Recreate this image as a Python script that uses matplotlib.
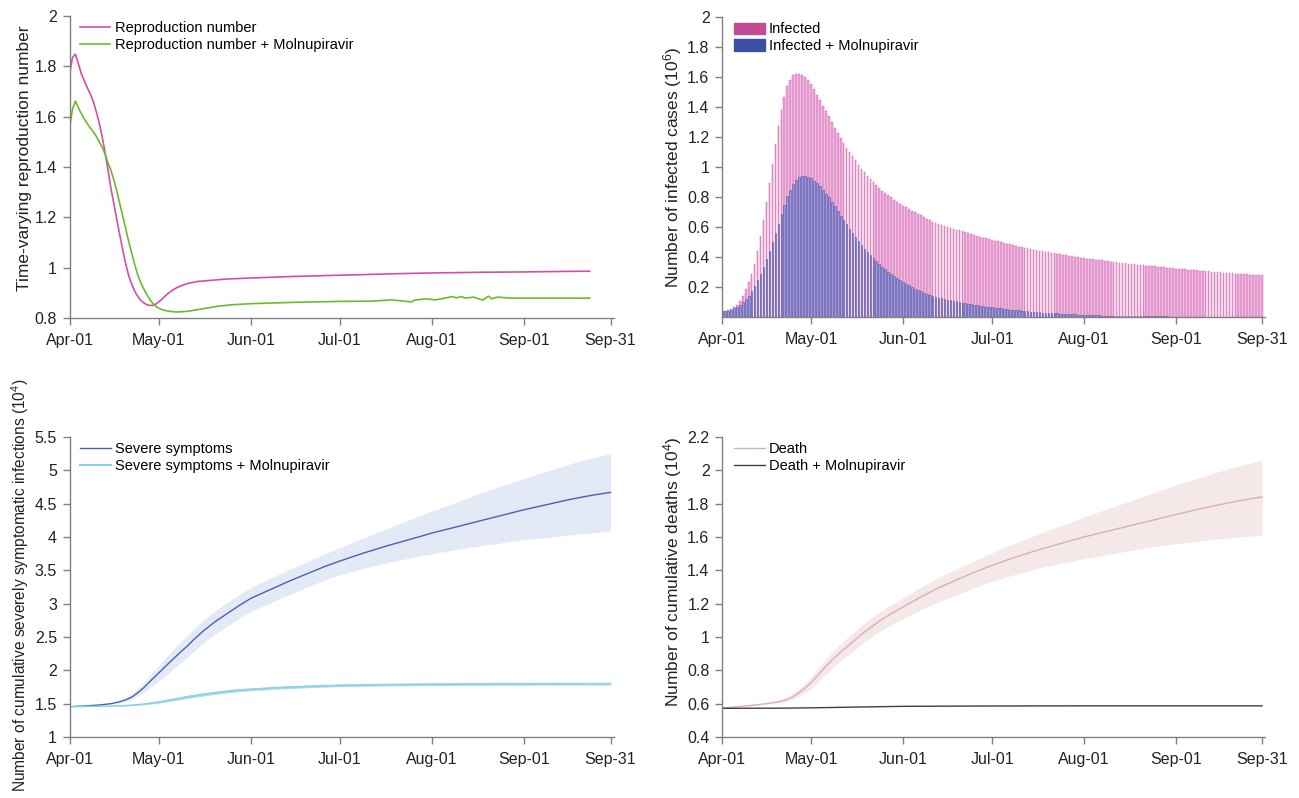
import matplotlib
matplotlib.use("Agg")
import matplotlib.pyplot as plt
from matplotlib.patches import Patch
from matplotlib.lines import Line2D

plt.rcParams['font.family'] = ['Liberation Sans', 'DejaVu Sans']
plt.rcParams['mathtext.fontset'] = 'custom'
plt.rcParams['mathtext.rm'] = 'Liberation Sans'
plt.rcParams['mathtext.it'] = 'Liberation Sans'

# x axis: days since Apr-01
tick_days = [0, 30, 61, 91, 122, 153, 182]
tick_labels = ["Apr-01", "May-01", "Jun-01", "Jul-01", "Aug-01", "Sep-01", "Sep-31"]

# panel 1: time-varying reproduction number
r_days = [0, 1, 2, 3, 4, 5, 6, 7, 8, 9, 10, 11, 12, 13, 14, 15, 16, 17, 18, 19, 20, 21, 22, 23,
          24, 25, 26, 27, 28, 29, 30, 31, 32, 33, 34, 35, 36, 38, 40, 43, 47, 53, 61, 75, 91,
          110, 122, 140, 153, 165, 175]
r_base = [1.767, 1.835, 1.848, 1.81, 1.77, 1.742, 1.715, 1.69, 1.66, 1.62, 1.575, 1.52, 1.455,
          1.385, 1.31, 1.25, 1.185, 1.125, 1.065, 1.01, 0.965, 0.932, 0.905, 0.885, 0.87, 0.86,
          0.853, 0.85, 0.85, 0.855, 0.864, 0.874, 0.885, 0.896, 0.905, 0.913, 0.92, 0.93, 0.938,
          0.945, 0.949, 0.955, 0.959, 0.965, 0.970, 0.976, 0.979, 0.982, 0.983, 0.985, 0.986]
rm_days = [0, 1, 2, 3, 4, 5, 6, 7, 8, 9, 10, 11, 12, 13, 14, 15, 16, 17, 18, 19, 20, 21, 22, 23,
           24, 25, 26, 27, 28, 29, 30, 31, 32, 34, 36, 38, 40, 44, 50, 55, 61, 75, 91, 102, 108,
           111, 115, 116, 120, 123, 125, 127, 129, 130, 132, 133, 136, 139, 141, 142, 144, 146,
           148, 160, 175]
rm_vals = [1.553, 1.63, 1.662, 1.635, 1.612, 1.59, 1.572, 1.555, 1.54, 1.522, 1.5, 1.478, 1.45,
           1.415, 1.385, 1.345, 1.30, 1.25, 1.20, 1.15, 1.10, 1.055, 1.01, 0.97, 0.94, 0.915,
           0.893, 0.874, 0.858, 0.847, 0.839, 0.834, 0.83, 0.826, 0.824, 0.825, 0.827, 0.835,
           0.847, 0.853, 0.857, 0.862, 0.866, 0.867, 0.872, 0.869, 0.864, 0.871, 0.876, 0.872,
           0.876, 0.881, 0.885, 0.880, 0.885, 0.879, 0.883, 0.871, 0.887, 0.876, 0.883, 0.881,
           0.879, 0.879, 0.879]

# panel 2: daily infected cases (10^6), one value per day
infected = [
    0.038, 0.040, 0.047, 0.053, 0.064, 0.082, 0.104, 0.138, 0.187, 0.231,
    0.289, 0.356, 0.438, 0.538, 0.649, 0.764, 0.893, 1.022, 1.151, 1.271,
    1.378, 1.467, 1.538, 1.582, 1.613, 1.622, 1.622, 1.613, 1.600, 1.578,
    1.553, 1.520, 1.482, 1.444, 1.409, 1.371, 1.338, 1.298, 1.260, 1.227,
    1.193, 1.160, 1.127, 1.098, 1.071, 1.044, 1.016, 0.989, 0.967, 0.942,
    0.920, 0.898, 0.882, 0.860, 0.842, 0.827, 0.811, 0.798, 0.782, 0.769,
    0.756, 0.742, 0.731, 0.720, 0.709, 0.700, 0.689, 0.678, 0.667, 0.656,
    0.644, 0.636, 0.629, 0.622, 0.613, 0.607, 0.601, 0.595, 0.589, 0.583,
    0.577, 0.571, 0.565, 0.559, 0.553, 0.547, 0.541, 0.535, 0.530, 0.524,
    0.519, 0.514, 0.509, 0.504, 0.499, 0.494, 0.489, 0.484, 0.479, 0.475,
    0.470, 0.466, 0.462, 0.458, 0.454, 0.450, 0.446, 0.443, 0.439, 0.436,
    0.432, 0.429, 0.425, 0.422, 0.418, 0.415, 0.412, 0.408, 0.405, 0.402,
    0.399, 0.396, 0.393, 0.390, 0.387, 0.385, 0.382, 0.379, 0.377, 0.374,
    0.372, 0.369, 0.367, 0.364, 0.362, 0.360, 0.358, 0.355, 0.353, 0.351,
    0.349, 0.347, 0.345, 0.343, 0.341, 0.339, 0.337, 0.335, 0.333, 0.331,
    0.329, 0.327, 0.325, 0.323, 0.321, 0.320, 0.318, 0.316, 0.314, 0.313,
    0.311, 0.309, 0.308, 0.306, 0.304, 0.303, 0.301, 0.300, 0.298, 0.296,
    0.295, 0.293, 0.292, 0.290, 0.289, 0.287, 0.286, 0.284, 0.283, 0.281,
    0.280, 0.278, 0.277,
]
infected_m = [
    0.038, 0.038, 0.042, 0.049, 0.058, 0.067, 0.082, 0.100, 0.120, 0.142,
    0.171, 0.204, 0.244, 0.289, 0.333, 0.387, 0.440, 0.498, 0.560, 0.622,
    0.687, 0.749, 0.804, 0.849, 0.889, 0.916, 0.933, 0.938, 0.938, 0.933,
    0.924, 0.909, 0.893, 0.871, 0.849, 0.822, 0.798, 0.769, 0.738, 0.707,
    0.676, 0.647, 0.618, 0.589, 0.560, 0.533, 0.507, 0.480, 0.456, 0.433,
    0.411, 0.391, 0.371, 0.353, 0.336, 0.318, 0.302, 0.287, 0.271, 0.258,
    0.244, 0.233, 0.222, 0.211, 0.200, 0.189, 0.180, 0.171, 0.162, 0.156,
    0.149, 0.142, 0.136, 0.129, 0.124, 0.120, 0.116, 0.112, 0.108, 0.104,
    0.100, 0.096, 0.092, 0.089, 0.085, 0.082, 0.079, 0.076, 0.073, 0.070,
    0.067, 0.064, 0.062, 0.059, 0.057, 0.054, 0.052, 0.050, 0.048, 0.046,
    0.044, 0.042, 0.040, 0.038, 0.036, 0.035, 0.033, 0.032, 0.030, 0.029,
    0.027, 0.026, 0.025, 0.024, 0.022, 0.021, 0.020, 0.019, 0.018, 0.017,
    0.016, 0.015, 0.014, 0.014, 0.013, 0.012, 0.012, 0.011, 0.010, 0.010,
    0.009, 0.009, 0.008, 0.008, 0.007, 0.007, 0.007, 0.006, 0.006, 0.006,
    0.005, 0.005, 0.005, 0.005, 0.005, 0.004, 0.004, 0.004, 0.004, 0.004,
    0.004, 0.003, 0.003, 0.003, 0.003, 0.003, 0.003, 0.003, 0.003, 0.002,
    0.002, 0.002, 0.002, 0.002, 0.002, 0.002, 0.002, 0.002, 0.002, 0.002,
    0.001, 0.001, 0.001, 0.001, 0.001, 0.001, 0.001, 0.001, 0.001, 0.001,
    0.001, 0.001, 0.001,
]
bar_days = list(range(len(infected)))

# panel 3: cumulative severely symptomatic infections (10^4)
sev_days = [0, 5, 10, 14, 17, 19, 21, 23, 25, 27, 30, 33, 37, 40, 42, 45, 49, 53, 57, 61, 68, 74,
            80, 86, 91, 99, 107, 115, 122, 130, 137, 145, 153, 160, 168, 175, 182]
sev = [1.455, 1.465, 1.48, 1.5, 1.53, 1.56, 1.6, 1.665, 1.74, 1.83, 1.96, 2.09, 2.26, 2.38, 2.47,
       2.59, 2.73, 2.85, 2.97, 3.08, 3.22, 3.34, 3.45, 3.56, 3.64, 3.76, 3.87, 3.97, 4.06, 4.15,
       4.23, 4.32, 4.41, 4.48, 4.56, 4.62, 4.67]
sev_lo = [1.455, 1.463, 1.475, 1.49, 1.513, 1.535, 1.565, 1.615, 1.67, 1.74, 1.84, 1.95, 2.10,
          2.21, 2.295, 2.41, 2.545, 2.66, 2.78, 2.885, 3.02, 3.14, 3.25, 3.36, 3.435, 3.53, 3.62,
          3.69, 3.75, 3.81, 3.86, 3.91, 3.96, 3.99, 4.03, 4.06, 4.09]
sev_hi = [1.455, 1.467, 1.486, 1.512, 1.55, 1.59, 1.645, 1.725, 1.815, 1.92, 2.07, 2.22, 2.41,
          2.535, 2.63, 2.755, 2.895, 3.015, 3.135, 3.245, 3.39, 3.515, 3.63, 3.75, 3.84, 3.99,
          4.13, 4.27, 4.39, 4.52, 4.64, 4.76, 4.88, 4.98, 5.09, 5.18, 5.25]
sevm_days = [0, 10, 15, 20, 25, 30, 35, 40, 45, 50, 55, 61, 68, 75, 83, 91, 105, 122, 140, 160, 182]
sevm = [1.455, 1.46, 1.465, 1.475, 1.495, 1.525, 1.565, 1.605, 1.64, 1.67, 1.695, 1.715, 1.735,
        1.75, 1.765, 1.775, 1.785, 1.792, 1.796, 1.798, 1.80]
sevm_lo = [1.455, 1.458, 1.461, 1.467, 1.483, 1.507, 1.543, 1.581, 1.615, 1.645, 1.671, 1.693,
           1.713, 1.729, 1.745, 1.755, 1.765, 1.772, 1.776, 1.778, 1.78]
sevm_hi = [1.455, 1.462, 1.469, 1.483, 1.507, 1.543, 1.587, 1.629, 1.665, 1.695, 1.719, 1.737,
           1.757, 1.771, 1.785, 1.795, 1.805, 1.812, 1.816, 1.818, 1.82]

# panel 4: cumulative deaths (10^4)
d_days = [0, 5, 10, 14, 17, 20, 22, 24, 26, 28, 30, 32, 34, 37, 40, 44, 48, 53, 57, 61, 67, 73,
          80, 86, 91, 99, 107, 115, 122, 130, 138, 145, 153, 160, 168, 175, 182]
death = [0.574, 0.581, 0.59, 0.598, 0.605, 0.615, 0.626, 0.643, 0.666, 0.694, 0.726, 0.765,
         0.805, 0.86, 0.91, 0.97, 1.03, 1.095, 1.14, 1.18, 1.24, 1.295, 1.35, 1.395, 1.43, 1.48,
         1.525, 1.565, 1.60, 1.635, 1.67, 1.70, 1.735, 1.765, 1.795, 1.82, 1.84]
death_lo = [0.574, 0.580, 0.588, 0.595, 0.600, 0.607, 0.615, 0.627, 0.645, 0.667, 0.691, 0.725,
            0.76, 0.81, 0.857, 0.914, 0.972, 1.033, 1.074, 1.11, 1.165, 1.21, 1.26, 1.302, 1.334,
            1.377, 1.415, 1.445, 1.47, 1.495, 1.52, 1.54, 1.56, 1.575, 1.59, 1.602, 1.61]
death_hi = [0.574, 0.582, 0.592, 0.602, 0.611, 0.625, 0.64, 0.663, 0.691, 0.724, 0.761, 0.803,
            0.845, 0.905, 0.96, 1.022, 1.084, 1.149, 1.194, 1.235, 1.298, 1.357, 1.416, 1.465,
            1.505, 1.565, 1.62, 1.673, 1.72, 1.77, 1.818, 1.862, 1.912, 1.952, 1.995, 2.03, 2.06]
dm_days = [0, 20, 30, 40, 50, 61, 75, 91, 122, 182]
death_m = [0.572, 0.573, 0.575, 0.578, 0.581, 0.584, 0.585, 0.586, 0.587, 0.587]

W, H = 1299, 798
fig = plt.figure(figsize=(W / 100, H / 100), dpi=100)


def make_ax(x0, x1, ytop, ybot):
    return fig.add_axes([x0 / W, 1 - ybot / H, (x1 - x0) / W, (ybot - ytop) / H])


def style(ax, yticks, ylabels, ylim, label, lab_xy, lab_size=12.5):
    for s in ["top", "right"]:
        ax.spines[s].set_visible(False)
    for s in ["left", "bottom"]:
        ax.spines[s].set_color("#808080")
        ax.spines[s].set_linewidth(1.0)
    ax.set_xlim(0, 183)
    ax.set_ylim(*ylim)
    ax.set_xticks(tick_days)
    ax.set_xticklabels(tick_labels)
    ax.set_yticks(yticks)
    ax.set_yticklabels(ylabels)
    ax.tick_params(axis="both", colors="#808080", labelcolor="#222222", length=5, width=1,
                   labelsize=11.5)
    ax.tick_params(axis="x", pad=6)
    ax.tick_params(axis="y", pad=4)
    ax.set_ylabel(label, fontsize=lab_size, color="#222222")
    ax.yaxis.set_label_coords(*lab_xy)


def legend(ax, handles, labels, x):
    ax.legend(handles, labels, loc="upper left", bbox_to_anchor=(x, 0.982), frameon=False,
              fontsize=10.5, borderaxespad=0, borderpad=0, labelspacing=0.18,
              handlelength=2.1, handleheight=0.8, handletextpad=0.3)


# panel 1
ax1 = make_ax(69.5, 613.5, 16, 318)
ax1.plot(r_days, r_base, color="#d24fa3", lw=1.2)
ax1.plot(rm_days, rm_vals, color="#6dbb2a", lw=1.2)
style(ax1, [0.8, 1.0, 1.2, 1.4, 1.6, 1.8, 2.0], ["0.8", "1", "1.2", "1.4", "1.6", "1.8", "2"],
      (0.8, 2.0), "Time-varying reproduction number", (-0.069, 0.53))
legend(ax1, [Line2D([], [], color="#d24fa3", lw=1.2), Line2D([], [], color="#6dbb2a", lw=1.2)],
       ["Reproduction number", "Reproduction number + Molnupiravir"], 0.019)

# panel 2
ax2 = make_ax(722, 1265, 17, 317)
ax2.bar(bar_days, infected, width=0.55, color="#eaaad8", edgecolor="#d264ae", linewidth=0.35)
ax2.bar(bar_days, infected_m, width=0.55, color="#9e9ad8", edgecolor="#4a52aa", linewidth=0.4)
style(ax2, [0.2, 0.4, 0.6, 0.8, 1.0, 1.2, 1.4, 1.6, 1.8, 2.0],
      ["0.2", "0.4", "0.6", "0.8", "1", "1.2", "1.4", "1.6", "1.8", "2"],
      (0, 2.0), r"Number of infected cases (10$^{6}$)", (-0.07, 0.5))
legend(ax2, [Patch(color="#c24b95"), Patch(color="#3d4fa3")],
       ["Infected", "Infected + Molnupiravir"], 0.022)

# panel 3
ax3 = make_ax(69.5, 613.5, 437, 737)
ax3.fill_between(sev_days, sev_lo, sev_hi, color="#e4e9f6", lw=0)
ax3.fill_between(sevm_days, sevm_lo, sevm_hi, color="#a9dce6", lw=0)
ax3.plot(sev_days, sev, color="#4a60b5", lw=1.0)
ax3.plot(sevm_days, sevm, color="#86d3e3", lw=1.0)
style(ax3, [1, 1.5, 2, 2.5, 3, 3.5, 4, 4.5, 5, 5.5],
      ["1", "1.5", "2", "2.5", "3", "3.5", "4", "4.5", "5", "5.5"],
      (1, 5.5), r"Number of cumulative severely symptomatic infections (10$^{4}$)",
      (-0.071, 0.507), lab_size=11.2)
legend(ax3, [Line2D([], [], color="#4a60b5", lw=1.0), Line2D([], [], color="#86d3e3", lw=1.5)],
       ["Severe symptoms", "Severe symptoms + Molnupiravir"], 0.02)

# panel 4
ax4 = make_ax(722, 1265, 437, 737)
ax4.fill_between(d_days, death_lo, death_hi, color="#f4e8e9", lw=0)
ax4.plot(d_days, death, color="#d8b0b4", lw=1.0)
ax4.plot(dm_days, death_m, color="#404040", lw=1.0)
style(ax4, [0.4, 0.6, 0.8, 1.0, 1.2, 1.4, 1.6, 1.8, 2.0, 2.2],
      ["0.4", "0.6", "0.8", "1", "1.2", "1.4", "1.6", "1.8", "2", "2.2"],
      (0.4, 2.2), r"Number of cumulative deaths (10$^{4}$)", (-0.07, 0.55))
legend(ax4, [Line2D([], [], color="#d8b0b4", lw=1.0), Line2D([], [], color="#404040", lw=1.0)],
       ["Death", "Death + Molnupiravir"], 0.022)

fig.savefig("out.png", dpi=100)
